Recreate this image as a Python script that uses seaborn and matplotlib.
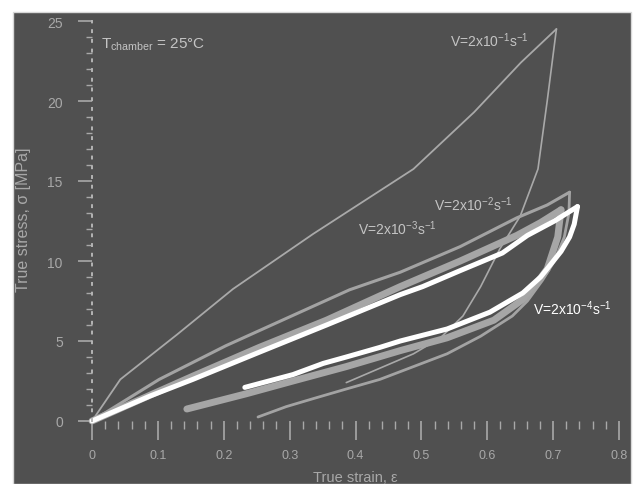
import numpy as np
import pandas as pd
import seaborn as sns
import matplotlib.pyplot as plt
from matplotlib.patches import Rectangle
from matplotlib.ticker import MultipleLocator

# --- data (true strain, true stress MPa) ---
# V = 2x10^-1 s^-1 (thin grey)
r1_load_x = [0, 0.043, 0.129, 0.214, 0.336, 0.488, 0.58, 0.651, 0.705]
r1_load_y = [0, 2.6, 5.4, 8.25, 11.7, 15.75, 19.3, 22.4, 24.5]
r1_unload_x = [0.705, 0.691, 0.677, 0.65, 0.619, 0.59, 0.563, 0.529, 0.488, 0.437, 0.386]
r1_unload_y = [24.5, 20.0, 15.75, 12.8, 10.75, 8.4, 6.56, 5.2, 4.2, 3.3, 2.4]

# V = 2x10^-2 s^-1 (grey)
r2_load_x = [0, 0.102, 0.203, 0.305, 0.391, 0.468, 0.559, 0.645, 0.691, 0.725]
r2_load_y = [0, 2.6, 4.7, 6.6, 8.2, 9.3, 10.9, 12.7, 13.5, 14.3]
r2_unload_x = [0.725, 0.724, 0.717, 0.702, 0.684, 0.661, 0.638, 0.59, 0.539, 0.488,
               0.437, 0.386, 0.336, 0.295, 0.252]
r2_unload_y = [14.3, 13.0, 11.5, 10.0, 8.8, 7.5, 6.56, 5.3, 4.2, 3.4,
               2.6, 2.0, 1.4, 0.9, 0.25]

# V = 2x10^-3 s^-1 (thick light grey)
r3_load_x = [0, 0.153, 0.254, 0.356, 0.468, 0.559, 0.645, 0.681, 0.712]
r3_load_y = [0, 2.8, 4.6, 6.3, 8.4, 10.0, 11.6, 12.4, 13.2]
r3_unload_x = [0.712, 0.707, 0.691, 0.661, 0.61, 0.539, 0.468, 0.386, 0.305, 0.234, 0.144]
r3_unload_y = [13.2, 11.5, 9.5, 7.8, 6.3, 5.2, 4.4, 3.4, 2.5, 1.7, 0.75]

# V = 2x10^-4 s^-1 (white)
r4_load_x = [0, 0.088, 0.153, 0.254, 0.356, 0.468, 0.502, 0.559, 0.623, 0.661, 0.702, 0.737]
r4_load_y = [0, 1.56, 2.6, 4.3, 6.0, 7.9, 8.4, 9.4, 10.5, 11.6, 12.5, 13.4]
r4_unload_x = [0.737, 0.732, 0.725, 0.712, 0.681, 0.654, 0.604, 0.539, 0.468, 0.437,
               0.386, 0.351, 0.305, 0.232]
r4_unload_y = [13.4, 12.3, 11.5, 10.6, 9.0, 8.0, 6.8, 5.75, 5.0, 4.6,
               4.0, 3.6, 2.9, 2.1]

x_ticks = [0, 0.1, 0.2, 0.3, 0.4, 0.5, 0.6, 0.7, 0.8]
x_tick_labels = ['0', '0.1', '0.2', '0.3', '0.4', '0.5', '0.6', '0.7', '0.8']
y_ticks = [0, 5, 10, 15, 20, 25]
y_tick_labels = ['0', '5', '10', '15', '20', '25']

curves = [
    (r1_load_x, r1_load_y, '#a9a9a9', 1.3),
    (r1_unload_x, r1_unload_y, '#a9a9a9', 1.2),
    (r3_load_x, r3_load_y, '#a6a6a6', 5.0),
    (r3_unload_x, r3_unload_y, '#a6a6a6', 5.0),
    (r2_load_x, r2_load_y, '#a3a3a3', 2.2),
    (r2_unload_x, r2_unload_y, '#a3a3a3', 2.0),
    (r4_load_x, r4_load_y, 'white', 3.6),
    (r4_unload_x, r4_unload_y, 'white', 3.6),
]

sns.set_theme(style='dark')
plt.rcParams['font.family'] = ['Liberation Sans', 'DejaVu Sans']
plt.rcParams['mathtext.fontset'] = 'custom'
plt.rcParams['mathtext.rm'] = 'Liberation Sans'
plt.rcParams['mathtext.it'] = 'Liberation Sans:italic'
plt.rcParams['mathtext.default'] = 'regular'

W, H = 634, 485
fig = plt.figure(figsize=(W / 100, H / 100), dpi=100)
fig.patch.set_facecolor('white')
fig.add_artist(Rectangle((13 / W, 0), (631 - 13) / W, (H - 13) / H,
                         transform=fig.transFigure, facecolor='#505050',
                         edgecolor='#d8d8d8', linewidth=1, zorder=0))

ax = fig.add_axes([92 / W, 63 / H, 527 / W, 400 / H])
ax.set_facecolor('none')

for xs, ys, col, lw in curves:
    df = pd.DataFrame({'strain': xs, 'stress': ys})
    sns.lineplot(data=df, x='strain', y='stress', sort=False, estimator=None,
                 color=col, linewidth=lw, ax=ax, clip_on=False)

ax.set_xlim(0, 0.8)
ax.set_ylim(0, 25)
ax.set_xlabel('')
ax.set_ylabel('')

for s in ['top', 'right', 'bottom']:
    ax.spines[s].set_visible(False)
ax.spines['left'].set_color('#b4b4b4')
ax.spines['left'].set_linewidth(1.4)
ax.spines['left'].set_linestyle((0, (1, 4)))

tick_col = '#a8a8a8'
ax.set_xticks(x_ticks)
ax.set_xticklabels(x_tick_labels)
ax.set_yticks(y_ticks)
ax.set_yticklabels(y_tick_labels)
ax.xaxis.set_minor_locator(MultipleLocator(0.02))
ax.yaxis.set_minor_locator(MultipleLocator(1))
ax.tick_params(axis='x', which='major', direction='out', length=14, width=1.2,
               color=tick_col, labelcolor=tick_col, labelsize=9, pad=6, bottom=True)
ax.tick_params(axis='x', which='minor', direction='out', length=6, width=1,
               color=tick_col, bottom=True)
ax.tick_params(axis='y', which='major', direction='out', length=10, width=1.2,
               color=tick_col, labelcolor=tick_col, labelsize=10, pad=11, left=True)
ax.tick_params(axis='y', which='minor', direction='out', length=4, width=1,
               color=tick_col, left=True)
ax.grid(False)

# annotations
lab_col = '#c4c4c4'
ax.text(0.014, 23.6, r'T$_{\rm chamber}$ = 25°C', color=lab_col, fontsize=11,
        ha='left', va='center')
ax.text(0.543, 23.8, r'V=2x10$^{-1}$s$^{-1}$', color=lab_col, fontsize=10,
        ha='left', va='center')
ax.text(0.519, 13.6, r'V=2x10$^{-2}$s$^{-1}$', color=lab_col, fontsize=10,
        ha='left', va='center')
ax.text(0.404, 12.1, r'V=2x10$^{-3}$s$^{-1}$', color=lab_col, fontsize=10,
        ha='left', va='center')
ax.text(0.669, 7.1, r'V=2x10$^{-4}$s$^{-1}$', color='white', fontsize=10,
        ha='left', va='center')

fig.text(24 / W, 1 - 220 / H, 'True stress, σ [MPa]', rotation=90, color=tick_col,
         fontsize=11.5, ha='center', va='center')
fig.text(355 / W, 1 - 471 / H, 'True strain, ε', color=tick_col, fontsize=10.5,
         ha='center', va='top')

fig.savefig('out.png', dpi=100, facecolor='white')
